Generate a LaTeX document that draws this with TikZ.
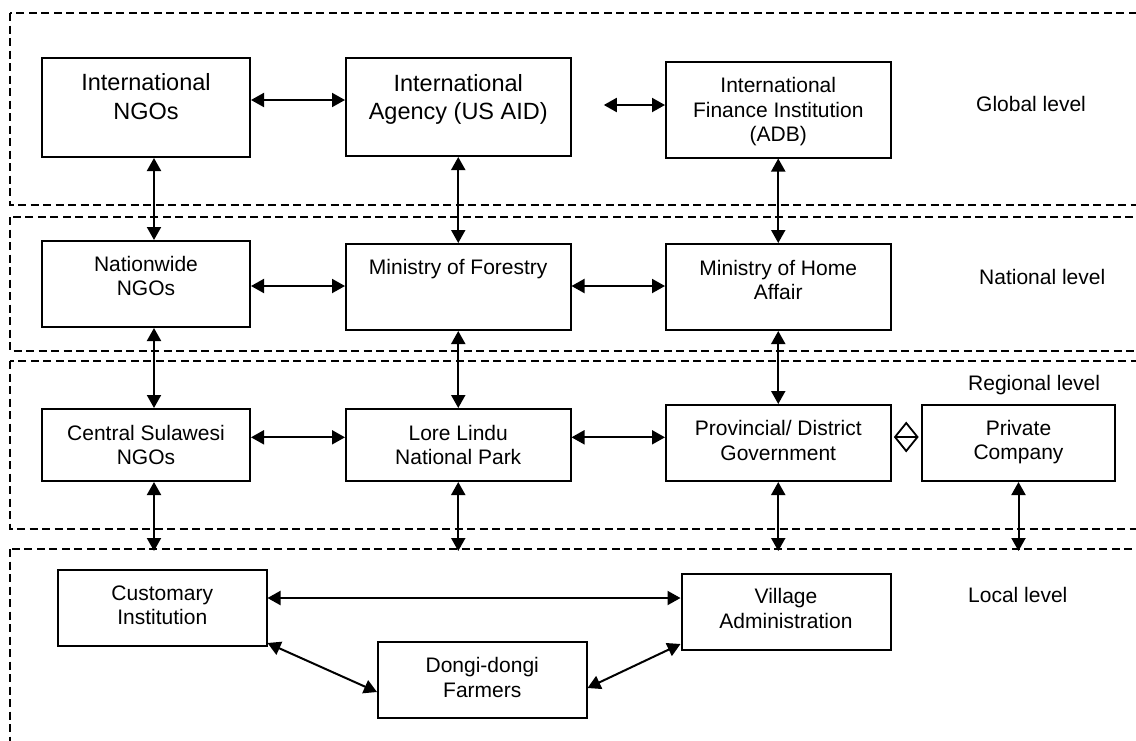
\documentclass[tikz,border=0pt]{standalone}
\usepackage{fontspec}
\setmainfont{Liberation Sans}
\usetikzlibrary{arrows.meta}
\newcommand\boxtext[1]{\begin{tabular}[t]{@{}c@{}}#1\end{tabular}}
\tikzset{
  org/.style={draw, rectangle, line width=2pt, inner sep=0pt, outer sep=1pt},
  lbl/.style={inner sep=0pt, anchor=base, font=\fontsize{21}{24.5}\selectfont},
  biglbl/.style={inner sep=0pt, anchor=base, font=\fontsize{23.5}{28.3}\selectfont},
  lvl/.style={inner sep=0pt, anchor=base west, font=\fontsize{21}{24.5}\selectfont},
  arr/.style={line width=2pt, {Triangle[length=13pt,width=14pt]}-{Triangle[length=13pt,width=14pt]}},
  zone/.style={line width=2pt, dash pattern=on 8pt off 4.5pt},
}
\begin{document}
\begin{tikzpicture}[x=1pt,y=-1pt]
\clip (0,0) rectangle (1136,740);
\fill[white] (0,0) rectangle (1136,740);
% level zones
\draw[zone] (10,13) rectangle (1150,205);
\draw[zone] (10,217) rectangle (1150,351);
\draw[zone] (10,361) rectangle (1150,529);
\draw[zone] (10,549) rectangle (1150,770);
% boxes
\node[org, minimum width=208pt, minimum height=99pt] (intngo) at (146,107.5) {};
\node[org, minimum width=224.5pt, minimum height=98pt] (agency) at (458.25,107) {};
\node[org, minimum width=224.5pt, minimum height=96pt] (adb) at (778.25,109.5) {};
\node[org, minimum width=208pt, minimum height=86pt] (natngo) at (146,284) {};
\node[org, minimum width=224.5pt, minimum height=86pt] (forestry) at (458.25,287) {};
\node[org, minimum width=224.5pt, minimum height=86pt] (home) at (778.25,287) {};
\node[org, minimum width=208pt, minimum height=72pt] (cstngo) at (146,445) {};
\node[org, minimum width=224.5pt, minimum height=72pt] (lore) at (458.25,445) {};
\node[org, minimum width=224.5pt, minimum height=76pt] (prov) at (778.25,443) {};
\node[org, minimum width=193pt, minimum height=76pt] (priv) at (1018.5,443) {};
\node[org, minimum width=208.5pt, minimum height=76pt] (cust) at (162.25,608) {};
\node[org, minimum width=209pt, minimum height=76pt] (village) at (786,611.5) {};
\node[org, minimum width=208.5pt, minimum height=76pt] (dongi) at (482.25,680) {};
% texts
\node[biglbl] (tintngo) at (146,90.7) {\boxtext{International\\NGOs}};
\node[biglbl] (tagency) at (458.25,91) {\boxtext{International\\Agency (US AID)}};
\node[lbl] (tadb) at (778.25,92.5) {\boxtext{International\\Finance Institution\\(ADB)}};
\node[lbl] (tnatngo) at (146,271) {\boxtext{Nationwide\\NGOs}};
\node[lbl] (tforestry) at (458.25,274.3) {Ministry of Forestry};
\node[lbl] (thome) at (778.25,275) {\boxtext{Ministry of Home\\Affair}};
\node[lbl] (tcstngo) at (146,440) {\boxtext{Central Sulawesi\\NGOs}};
\node[lbl] (tlore) at (458.25,440) {\boxtext{Lore Lindu\\National Park}};
\node[lbl] (tprov) at (778.25,435.7) {\boxtext{Provincial/ District\\Government}};
\node[lbl] (tpriv) at (1018.5,435) {\boxtext{Private\\Company}};
\node[lbl] (tcust) at (162.25,600) {\boxtext{Customary\\Institution}};
\node[lbl] (tvillage) at (786,603.5) {\boxtext{Village\\Administration}};
\node[lbl] (tdongi) at (482.25,672.7) {\boxtext{Dongi-dongi\\Farmers}};
% level labels
\node[lvl] (lglobal) at (976,111.5) {Global level};
\node[lvl] (lnat) at (979,284.3) {National level};
\node[lvl] (lreg) at (968,390) {Regional level};
\node[lvl] (lloc) at (968,602.3) {Local level};
% diamond symbol
\draw[line width=1.8pt, line join=miter] (895,437) -- (906.2,423) -- (917.5,437) -- (906.2,451) -- cycle;
\draw[line width=1.8pt] (895,437) -- (917.5,437);
% free ends
\coordinate (ltop) at (0,551);
\coordinate (free1) at (603.8,105);
% connectors
\draw[arr] ([yshift=7.5pt]intngo.east) -- ([yshift=7.5pt]intngo.east -| agency.west);
\draw[arr] (free1) -- (free1 -| adb.west);
\draw[arr] ([xshift=8pt]intngo.south) -- ([xshift=8pt]intngo.south |- natngo.north);
\draw[arr] (agency.south) -- (forestry.north);
\draw[arr] (adb.south) -- (home.north);
\draw[arr] ([yshift=-2pt]natngo.east) -- ([yshift=-2pt]natngo.east -| forestry.west);
\draw[arr] ([yshift=1pt]forestry.east) -- ([yshift=1pt]forestry.east -| home.west);
\draw[arr] ([xshift=8pt]natngo.south) -- ([xshift=8pt]natngo.south |- cstngo.north);
\draw[arr] (forestry.south) -- (lore.north);
\draw[arr] (home.south) -- (prov.north);
\draw[arr] ([yshift=7.7pt]cstngo.east) -- ([yshift=7.7pt]cstngo.east -| lore.west);
\draw[arr] ([yshift=7.7pt]lore.east) -- ([yshift=7.7pt]lore.east -| prov.west);
\draw[arr] ([xshift=8pt]cstngo.south) -- ([xshift=8pt]cstngo.south |- ltop);
\draw[arr] (lore.south) -- (lore.south |- ltop);
\draw[arr] (prov.south) -- (prov.south |- ltop);
\draw[arr] (priv.south) -- (priv.south |- ltop);
\draw[arr] ([yshift=10pt]cust.east) -- ([yshift=10pt]cust.east -| village.west);
\draw[arr] ([yshift=4pt]cust.south east) -- ([yshift=-12pt]dongi.west);
\draw[arr] ([yshift=-8pt]dongi.east) -- ([yshift=6.5pt]village.south west);
\end{tikzpicture}
\end{document}
